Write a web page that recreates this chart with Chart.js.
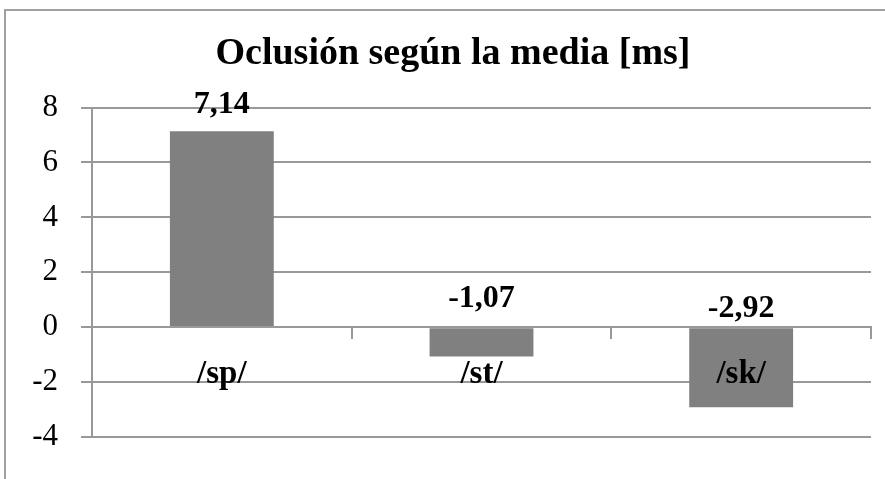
<!DOCTYPE html>
<html lang="es">
<head>
    <meta charset="UTF-8">
    <title>Oclusión según la media</title>
    <script src="https://cdn.jsdelivr.net/npm/chart.js"></script>
    <style>
        body {
            margin: 0;
            background: #fff;
        }
        .wrapper {
            position: relative;
            width: 885px;
            height: 479px;
            overflow: hidden;
        }
        .frame {
            position: absolute;
            left: 4px;
            top: 9px;
            width: 1000px;
            height: 1000px;
            border-left: 2px solid #a0a0a0;
            border-top: 2px solid #a0a0a0;
        }
        canvas {
            position: absolute;
            left: 0;
            top: 0;
        }
    </style>
</head>
<body>
    <div class="wrapper">
        <div class="frame"></div>
        <canvas id="chart" width="885" height="479"></canvas>
    </div>

    <script>
        // datos
        const categories = ['/sp/', '/st/', '/sk/'];
        const occlusion = [7.14, -1.07, -2.92];
        const yTicks = [-4, -2, 0, 2, 4, 6, 8];

        // separación de las etiquetas de valor (px)
        const labelGap = [18, 20, 10];

        const serif = '"Liberation Serif", "Times New Roman", serif';
        const gray = '#999999';

        const valueLabels = {
            id: 'valueLabels',
            afterDatasetsDraw(chart) {
                const ctx = chart.ctx;
                const meta = chart.getDatasetMeta(0);
                const y0 = chart.scales.y.getPixelForValue(0);
                ctx.save();
                ctx.font = 'bold 32px ' + serif;
                ctx.textAlign = 'center';
                ctx.textBaseline = 'alphabetic';
                ctx.fillStyle = '#000';
                meta.data.forEach((bar, i) => {
                    const top = Math.min(bar.y, y0);
                    const text = occlusion[i].toFixed(2).replace('.', ',');
                    ctx.fillText(text, bar.x, top - labelGap[i]);
                });
                ctx.restore();
            }
        };

        const ctx = document.getElementById('chart').getContext('2d');
        new Chart(ctx, {
            type: 'bar',
            data: {
                labels: categories,
                datasets: [{
                    data: occlusion,
                    backgroundColor: '#808080',
                    categoryPercentage: 1,
                    barPercentage: 0.4
                }]
            },
            options: {
                responsive: false,
                animation: false,
                layout: {
                    padding: { left: 21, top: 10, right: 0, bottom: 42 }
                },
                plugins: {
                    legend: { display: false },
                    tooltip: { enabled: false },
                    title: {
                        display: true,
                        text: 'Oclusión según la media [ms]',
                        color: '#000',
                        font: { family: serif, size: 38, weight: 'bold' },
                        padding: { top: 21, bottom: 31 }
                    }
                },
                scales: {
                    x: {
                        position: { y: 0 },
                        afterFit: s => { s.height = 0; },
                        grid: {
                            offset: true,
                            drawOnChartArea: false,
                            drawTicks: true,
                            tickLength: 11,
                            color: gray,
                            lineWidth: 2
                        },
                        border: { display: true, color: gray, width: 2, z: 1 },
                        ticks: {
                            z: 1,
                            color: '#000',
                            padding: 16,
                            font: { family: serif, size: 33, weight: 'bold' }
                        }
                    },
                    y: {
                        min: -4,
                        max: 8,
                        afterFit: s => { s.width = 71; },
                        afterBuildTicks: s => { s.ticks = yTicks.map(v => ({ value: v })); },
                        grid: {
                            color: gray,
                            lineWidth: 2,
                            tickLength: 11
                        },
                        border: { display: true, color: gray, width: 2 },
                        ticks: {
                            color: '#000',
                            padding: 23,
                            font: { family: serif, size: 31 }
                        }
                    },
                    yR: {
                        position: 'right',
                        display: true,
                        afterFit: s => { s.width = 14; },
                        grid: { display: false },
                        border: { display: false },
                        ticks: { display: false }
                    }
                }
            },
            plugins: [valueLabels]
        });
    </script>
</body>
</html>
